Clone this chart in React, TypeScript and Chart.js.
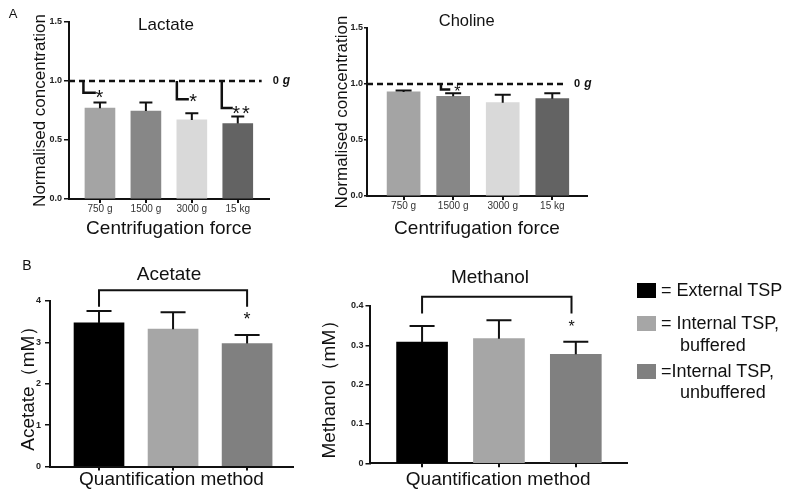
import React, { useEffect, useRef } from 'react';
import { Chart, registerables } from 'chart.js';

Chart.register(...registerables);

const FONT = '"Liberation Sans", Arial, Helvetica, sans-serif';

// ---------- Panel A data ----------
const forceLabels = ['750 g', '1500 g', '3000 g', '15 kg'];
const forceColors = ['#a4a4a4', '#878787', '#d9d9d9', '#636363'];
const lactateValues = [0.77, 0.745, 0.67, 0.64];
const lactateErrors = [0.047, 0.073, 0.057, 0.06];
const cholineValues = [0.929, 0.89, 0.833, 0.869];
const cholineErrors = [0.012, 0.027, 0.072, 0.048];

// ---------- Panel B data ----------
const methodLabels = ['External TSP', 'Internal TSP, buffered', 'Internal TSP, unbuffered'];
const methodColors = ['#000000', '#a6a6a6', '#808080'];
const acetateValues = [3.47, 3.32, 2.97];
const acetateErrors = [0.29, 0.41, 0.21];
const methanolValues = [0.308, 0.317, 0.277];
const methanolErrors = [0.041, 0.047, 0.032];

const legendLines = [['= External TSP'], ['= Internal TSP,', 'buffered'], ['=Internal TSP,', 'unbuffered']];

type LBracket = { x: number; yEnd: number; xEnd: number };
type SpanBracket = { x0: number; x1: number; yTop: number; yLow: number };
type Star = { x: number; y: number; text: string; size: number; spacing?: number };

type Panel = {
  key: string;
  tickLabels: string[];
  showXLabels: boolean;
  values: number[];
  errors: number[];
  colors: string[];
  area: { left: number; top: number; right: number; bottom: number };
  xMin: number;
  xMax: number;
  yMin: number;
  yMax: number;
  yStep: number;
  yFmt: (v: number) => string;
  yTickLen: number;
  yTickPad: number;
  yTitle: string;
  yTitleSize: number;
  yTitleX: number;
  xTitle: string;
  xTitleSize: number;
  xTitleY: number;
  barThickness: number;
  capWidth: number;
  title: { text: string; x: number; y: number; size: number };
  tag?: { text: string; x: number; y: number; size: number };
  ref?: { value: number; toX: number; labelX: number };
  lBrackets: LBracket[];
  spans: SpanBracket[];
  stars: Star[];
};

const panels: Panel[] = [
  {
    key: 'lactate',
    tickLabels: forceLabels,
    showXLabels: true,
    values: lactateValues,
    errors: lactateErrors,
    colors: forceColors,
    area: { left: 69, top: 22, right: 269, bottom: 199 },
    xMin: -0.674,
    xMax: 3.68,
    yMin: 0,
    yMax: 1.5,
    yStep: 0.5,
    yFmt: (v) => v.toFixed(1),
    yTickLen: 5,
    yTickPad: 2,
    yTitle: 'Normalised concentration',
    yTitleSize: 17,
    yTitleX: 40,
    xTitle: 'Centrifugation force',
    xTitleSize: 19,
    xTitleY: 228.5,
    barThickness: 30,
    capWidth: 13,
    title: { text: 'Lactate', x: 166, y: 25, size: 17 },
    tag: { text: 'A', x: 13, y: 14, size: 13 },
    ref: { value: 1.0, toX: 3.52, labelX: 3.76 },
    lBrackets: [
      { x: -0.36, yEnd: 0.901, xEnd: -0.09 },
      { x: 1.674, yEnd: 0.845, xEnd: 1.935 },
      { x: 2.652, yEnd: 0.771, xEnd: 2.891 },
    ],
    spans: [],
    stars: [
      { x: -0.01, y: 0.903, text: '*', size: 20 },
      { x: 2.03, y: 0.864, text: '*', size: 20 },
      { x: 3.07, y: 0.767, text: '**', size: 20, spacing: 2 },
    ],
  },
  {
    key: 'choline',
    tickLabels: forceLabels,
    showXLabels: true,
    values: cholineValues,
    errors: cholineErrors,
    colors: forceColors,
    area: { left: 367, top: 28, right: 587, bottom: 196 },
    xMin: -0.738,
    xMax: 3.7,
    yMin: 0,
    yMax: 1.5,
    yStep: 0.5,
    yFmt: (v) => v.toFixed(1),
    yTickLen: 3,
    yTickPad: 1,
    yTitle: 'Normalised concentration',
    yTitleSize: 17,
    yTitleX: 342.5,
    xTitle: 'Centrifugation force',
    xTitleSize: 19,
    xTitleY: 228.3,
    barThickness: 33,
    capWidth: 16,
    title: { text: 'Choline', x: 466.7, y: 21, size: 16.5 },
    ref: { value: 1.0, toX: 3.29, labelX: 3.44 },
    lBrackets: [{ x: 0.754, yEnd: 0.952, xEnd: 0.942 }],
    spans: [],
    stars: [{ x: 1.083, y: 0.963, text: '*', size: 16 }],
  },
  {
    key: 'acetate',
    tickLabels: ['', '', ''],
    showXLabels: false,
    values: acetateValues,
    errors: acetateErrors,
    colors: methodColors,
    area: { left: 50, top: 301, right: 293, bottom: 466.5 },
    xMin: -0.662,
    xMax: 2.62,
    yMin: 0,
    yMax: 4,
    yStep: 1,
    yFmt: (v) => String(v),
    yTickLen: 5,
    yTickPad: 4,
    yTitle: 'Acetate（mM）',
    yTitleSize: 19,
    yTitleX: 29,
    xTitle: 'Quantification method',
    xTitleSize: 19,
    xTitleY: 480,
    barThickness: 50,
    capWidth: 25,
    title: { text: 'Acetate', x: 169, y: 274.7, size: 19 },
    tag: { text: 'B', x: 27, y: 266, size: 14 },
    lBrackets: [],
    spans: [{ x0: 0, x1: 2, yTop: 4.26, yLow: 3.86 }],
    stars: [{ x: 2, y: 3.68, text: '*', size: 18 }],
  },
  {
    key: 'methanol',
    tickLabels: ['', '', ''],
    showXLabels: false,
    values: methanolValues,
    errors: methanolErrors,
    colors: methodColors,
    area: { left: 369.5, top: 306, right: 627, bottom: 463.3 },
    xMin: -0.684,
    xMax: 2.666,
    yMin: 0,
    yMax: 0.4,
    yStep: 0.1,
    yFmt: (v) => (v === 0 ? '0' : v.toFixed(1)),
    yTickLen: 4,
    yTickPad: 2,
    yTitle: 'Methanol（mM）',
    yTitleSize: 19,
    yTitleX: 330,
    xTitle: 'Quantification method',
    xTitleSize: 19,
    xTitleY: 479.3,
    barThickness: 51,
    capWidth: 25,
    title: { text: 'Methanol', x: 490, y: 277.3, size: 19 },
    lBrackets: [],
    spans: [{ x0: 0, x1: 1.944, yTop: 0.4237, yLow: 0.381 }],
    stars: [{ x: 1.944, y: 0.3575, text: '*', size: 16 }],
  },
];

function makeExtras(p: Panel) {
  return {
    id: 'extras_' + p.key,
    afterDatasetsDraw(chart: any) {
      const ctx: CanvasRenderingContext2D = chart.ctx;
      const xs = chart.scales.x;
      const ys = chart.scales.y;
      const ink = '#111111';
      ctx.save();
      // error bars (upper only)
      ctx.strokeStyle = ink;
      ctx.lineWidth = 2;
      ctx.setLineDash([]);
      p.values.forEach((v, i) => {
        const x = xs.getPixelForValue(i);
        const y0 = ys.getPixelForValue(v);
        const y1 = ys.getPixelForValue(v + p.errors[i]);
        ctx.beginPath();
        ctx.moveTo(x, y0);
        ctx.lineTo(x, y1);
        ctx.moveTo(x - p.capWidth / 2, y1);
        ctx.lineTo(x + p.capWidth / 2, y1);
        ctx.stroke();
      });
      // reference dashed line (0 g)
      if (p.ref) {
        const yr = ys.getPixelForValue(p.ref.value);
        ctx.beginPath();
        ctx.setLineDash([6, 4]);
        ctx.lineWidth = 2.5;
        ctx.moveTo(chart.chartArea.left, yr);
        ctx.lineTo(xs.getPixelForValue(p.ref.toX), yr);
        ctx.stroke();
        ctx.setLineDash([]);
        const lx = xs.getPixelForValue(p.ref.labelX);
        ctx.fillStyle = ink;
        ctx.textBaseline = 'middle';
        ctx.textAlign = 'left';
        ctx.font = `bold 11px ${FONT}`;
        ctx.fillText('0', lx, yr);
        const w = ctx.measureText('0 ').width;
        ctx.font = `italic bold 12px ${FONT}`;
        ctx.fillText('g', lx + w + 1, yr);
      }
      // L-shaped significance markers
      ctx.lineWidth = 2.5;
      p.lBrackets.forEach((b) => {
        const x = xs.getPixelForValue(b.x);
        const yTop = ys.getPixelForValue(p.ref ? p.ref.value : 1);
        const yEnd = ys.getPixelForValue(b.yEnd);
        ctx.beginPath();
        ctx.moveTo(x, yTop);
        ctx.lineTo(x, yEnd);
        ctx.lineTo(xs.getPixelForValue(b.xEnd), yEnd);
        ctx.stroke();
      });
      // spanning brackets
      ctx.lineWidth = 2;
      p.spans.forEach((s) => {
        const x0 = xs.getPixelForValue(s.x0);
        const x1 = xs.getPixelForValue(s.x1);
        const yt = ys.getPixelForValue(s.yTop);
        const yl = ys.getPixelForValue(s.yLow);
        ctx.beginPath();
        ctx.moveTo(x0, yl);
        ctx.lineTo(x0, yt);
        ctx.lineTo(x1, yt);
        ctx.lineTo(x1, yl);
        ctx.stroke();
      });
      // asterisks
      ctx.fillStyle = ink;
      ctx.textAlign = 'center';
      ctx.textBaseline = 'alphabetic';
      p.stars.forEach((s) => {
        ctx.font = `${s.size}px ${FONT}`;
        const cx = xs.getPixelForValue(s.x);
        const cy = ys.getPixelForValue(s.y);
        const base = cy + 0.57 * s.size;
        if (s.spacing && s.text.length > 1) {
          const adv = ctx.measureText('*').width + s.spacing;
          const n = s.text.length;
          for (let k = 0; k < n; k++) {
            ctx.fillText(s.text[k], cx + (k - (n - 1) / 2) * adv, base);
          }
        } else {
          ctx.fillText(s.text, cx, base);
        }
      });
      ctx.restore();
    },
    afterDraw(chart: any) {
      const ctx: CanvasRenderingContext2D = chart.ctx;
      ctx.save();
      ctx.fillStyle = '#111111';
      ctx.textAlign = 'center';
      ctx.textBaseline = 'middle';
      ctx.font = `${p.title.size}px ${FONT}`;
      ctx.fillText(p.title.text, p.title.x, p.title.y);
      if (p.tag) {
        ctx.font = `${p.tag.size}px ${FONT}`;
        ctx.fillText(p.tag.text, p.tag.x, p.tag.y);
      }
      ctx.restore();
    },
  };
}

function buildConfig(p: Panel): any {
  const W = 800;
  const H = 497;
  const yTitleLH = p.yTitleSize * 1.2;
  const xTitleLH = p.xTitleSize * 1.2;
  const padLeft = p.yTitleX - yTitleLH / 2;
  const yWidth = p.area.left - padLeft;
  const scaleBottom = p.xTitleY + xTitleLH / 2;
  const xHeight = scaleBottom - p.area.bottom;
  return {
    type: 'bar',
    data: {
      datasets: [
        {
          data: p.values.map((v, i) => ({ x: i, y: v })),
          backgroundColor: p.colors,
          borderWidth: 0,
          barThickness: p.barThickness,
        },
      ],
    },
    options: {
      responsive: false,
      animation: false,
      events: [],
      layout: {
        autoPadding: false,
        padding: { left: padLeft, top: p.area.top, right: W - p.area.right, bottom: H - scaleBottom },
      },
      plugins: { legend: { display: false }, tooltip: { enabled: false }, title: { display: false } },
      scales: {
        x: {
          type: 'linear',
          min: p.xMin,
          max: p.xMax,
          offset: false,
          afterBuildTicks: (s: any) => {
            s.ticks = p.tickLabels.map((_, i) => ({ value: i }));
          },
          afterFit: (s: any) => {
            s.height = xHeight;
          },
          grid: {
            display: true,
            offset: false,
            drawOnChartArea: false,
            drawTicks: true,
            tickLength: 4,
            color: '#111111',
            lineWidth: 2,
          },
          border: { display: true, color: '#111111', width: 2 },
          ticks: {
            display: p.showXLabels,
            padding: 0,
            autoSkip: false,
            maxRotation: 0,
            font: { family: FONT, size: 10 },
            color: '#333333',
            callback: (v: number) => p.tickLabels[v] ?? '',
          },
          title: {
            display: true,
            text: p.xTitle,
            font: { family: FONT, size: p.xTitleSize },
            color: '#111111',
            padding: 0,
          },
        },
        y: {
          type: 'linear',
          min: p.yMin,
          max: p.yMax,
          afterFit: (s: any) => {
            s.width = yWidth;
          },
          grid: {
            display: true,
            drawOnChartArea: false,
            drawTicks: true,
            tickLength: p.yTickLen,
            color: '#111111',
            lineWidth: 1.5,
          },
          border: { display: true, color: '#111111', width: 2 },
          ticks: {
            stepSize: p.yStep,
            padding: p.yTickPad,
            font: { family: FONT, size: 9, weight: 'bold' },
            color: '#222222',
            callback: (v: number) => p.yFmt(v),
          },
          title: {
            display: true,
            text: p.yTitle,
            font: { family: FONT, size: p.yTitleSize },
            color: '#111111',
            padding: 0,
          },
        },
      },
    },
    plugins: [makeExtras(p)],
  };
}

function PanelChart({ panel }: { panel: Panel }) {
  const ref = useRef<HTMLCanvasElement | null>(null);
  useEffect(() => {
    const canvas = ref.current;
    if (!canvas) return;
    const chart = new Chart(canvas, buildConfig(panel));
    return () => chart.destroy();
  }, [panel]);
  return (
    <canvas
      ref={ref}
      width={800}
      height={497}
      style={{ position: 'absolute', left: 0, top: 0, width: 800, height: 497 }}
    />
  );
}

const legendSquareTops = [283, 316, 364];
const legendLineCenters = [[290, 0], [323.3, 345], [371, 391.7]];

function Legend() {
  return (
    <>
      {legendLines.map((lines, i) => (
        <React.Fragment key={i}>
          <div
            title={methodLabels[i]}
            style={{
              position: 'absolute',
              left: 637,
              top: legendSquareTops[i],
              width: 19,
              height: 15,
              background: methodColors[i],
            }}
          />
          {lines.map((t, j) => (
            <div
              key={j}
              style={{
                position: 'absolute',
                left: j === 0 ? 661 : 680,
                top: legendLineCenters[i][j] - 10,
                height: 20,
                lineHeight: '20px',
                fontSize: 18,
                fontFamily: FONT,
                color: '#111',
                whiteSpace: 'nowrap',
              }}
            >
              {t}
            </div>
          ))}
        </React.Fragment>
      ))}
    </>
  );
}

export default function App() {
  return (
    <div
      style={{
        position: 'fixed',
        left: 0,
        top: 0,
        width: 800,
        height: 497,
        background: '#ffffff',
        overflow: 'hidden',
      }}
    >
      {panels.map((p) => (
        <PanelChart key={p.key} panel={p} />
      ))}
      <Legend />
    </div>
  );
}
